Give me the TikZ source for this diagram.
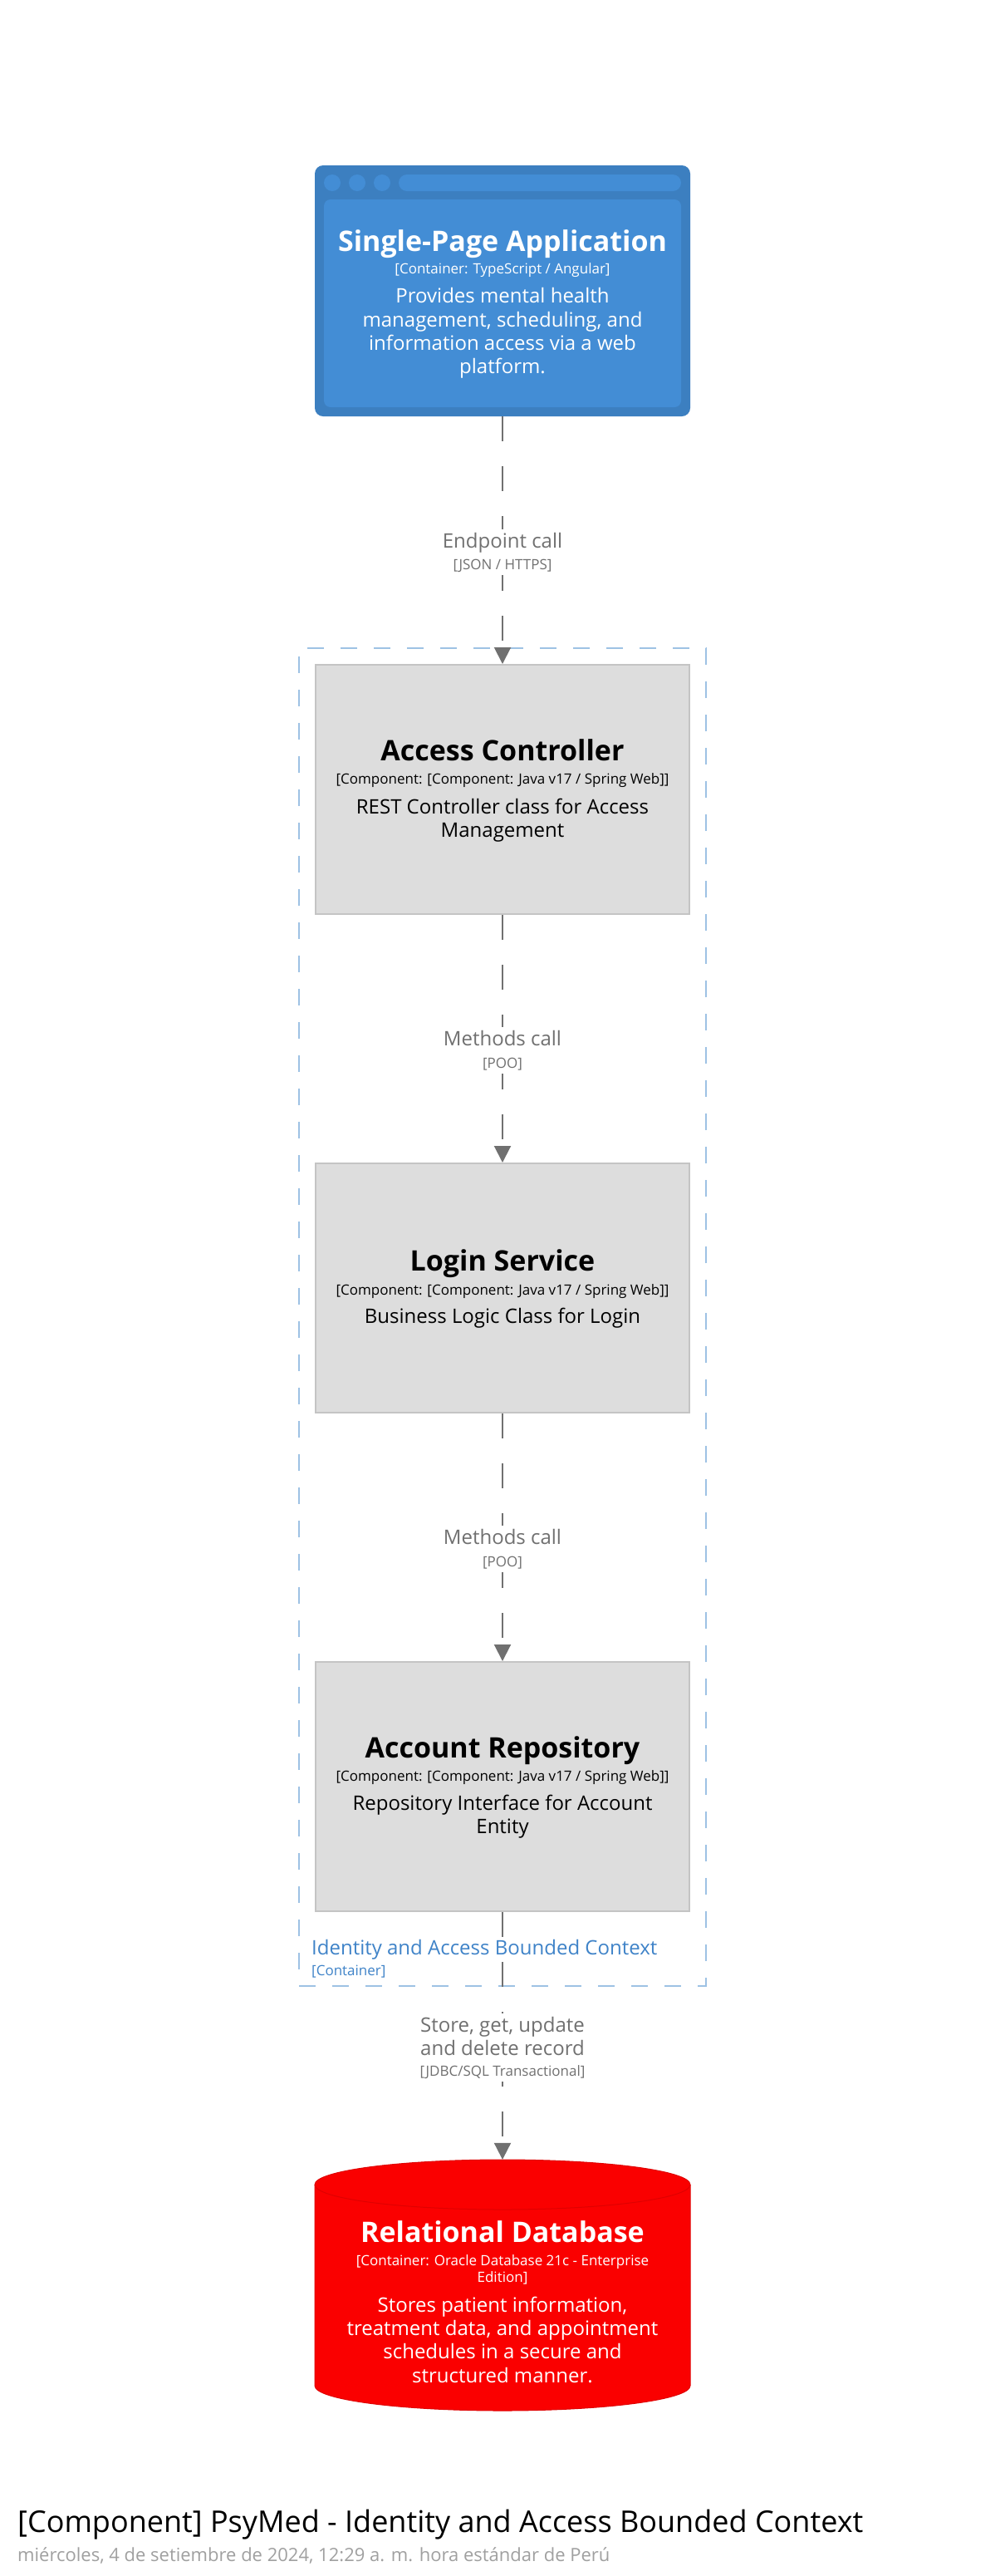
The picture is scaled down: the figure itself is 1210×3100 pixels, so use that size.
\documentclass[tikz,border=0pt]{standalone}
\usepackage{fontspec}
\setmainfont{Open Sans}
\usetikzlibrary{arrows.meta}
\definecolor{spaOuter}{HTML}{3C7FC0}
\definecolor{spaInner}{HTML}{438DD5}
\definecolor{compFill}{HTML}{DDDDDD}
\definecolor{compLine}{HTML}{C4C4C4}
\definecolor{relGray}{HTML}{707070}
\definecolor{bndBlue}{HTML}{9EC2E4}
\definecolor{bndText}{HTML}{3F83C8}
\definecolor{dbRed}{HTML}{FA0000}
\definecolor{dbLine}{HTML}{E00000}
\definecolor{dateGray}{HTML}{A0A0A0}
\tikzset{
  ttl/.style={anchor=base, inner sep=0pt, font=\fontsize{34}{40}\selectfont\bfseries},
  tech/.style={anchor=base, inner sep=0pt, font=\fontsize{17}{20}\selectfont},
  dsc/.style={anchor=base, inner sep=0pt, font=\fontsize{24}{28}\selectfont},
  comp/.style={rectangle, draw=compLine, line width=2pt, fill=compFill, minimum width=450pt, minimum height=300pt, inner sep=0pt},
  rel/.style={draw=relGray, line width=2pt, dash pattern=on 30pt off 30pt, -{Triangle[length=20pt,width=20pt]}},
  rlab/.style={anchor=base, fill=white, inner xsep=2pt, inner ysep=4pt, text=relGray, font=\fontsize{24}{28}\selectfont},
  rtech/.style={anchor=base, fill=white, inner xsep=2pt, inner ysep=4pt, text=relGray, font=\fontsize{17}{20}\selectfont},
}
\begin{document}
\begin{tikzpicture}[x=1pt,y=-1pt]
\useasboundingbox (0,0) rectangle (1210,3100);
\fill[white] (0,0) rectangle (1210,3100);

% boundary
\node[rectangle, draw=bndBlue, line width=2pt, dash pattern=on 20pt off 20pt, minimum width=490pt, minimum height=1610pt, inner sep=0pt] (bnd) at (605,1585) {};
\node[anchor=base west, inner sep=0pt, text=bndText, font=\fontsize{24}{28}\selectfont] (bndname) at (375,2352) {Identity and Access Bounded Context};
\node[anchor=base west, inner sep=0pt, text=bndText, font=\fontsize{17}{20}\selectfont] (bndtype) at (375,2377) {[Container]};

% Single-Page Application
\node[rectangle, fill=spaOuter, rounded corners=10pt, minimum width=452pt, minimum height=302pt, inner sep=0pt] (spa) at (605,350) {};
\fill[spaInner, rounded corners=8pt] (390,240) rectangle (820,490);
\foreach \cx in {400,430,460} \fill[spaInner] (\cx,220) circle[radius=10pt];
\fill[spaInner, rounded corners=10pt] (480,210) rectangle (820,230);
\node[ttl, text=white] (spa-t) at (605,302) {Single-Page Application};
\node[tech, text=white] (spa-k) at (605,329) {[Container: TypeScript / Angular]};
\node[dsc, text=white] (spa-d1) at (605,364) {Provides mental health};
\node[dsc, text=white] (spa-d2) at (605,393) {management, scheduling, and};
\node[dsc, text=white] (spa-d3) at (605,421) {information access via a web};
\node[dsc, text=white] (spa-d4) at (605,449) {platform.};

% Access Controller
\node[comp] (ac) at (605,950) {};
\node[ttl] (ac-t) at (605,915) {Access Controller};
\node[tech] (ac-k) at (605,943) {[Component: [Component: Java v17 / Spring Web]]};
\node[dsc] (ac-d1) at (605,979) {REST Controller class for Access};
\node[dsc] (ac-d2) at (605,1007) {Management};

% Login Service
\node[comp] (ls) at (605,1550) {};
\node[ttl] (ls-t) at (605,1529) {Login Service};
\node[tech] (ls-k) at (605,1558) {[Component: [Component: Java v17 / Spring Web]]};
\node[dsc] (ls-d1) at (605,1592) {Business Logic Class for Login};

% Account Repository
\node[comp] (ar) at (605,2150) {};
\node[ttl] (ar-t) at (605,2115) {Account Repository};
\node[tech] (ar-k) at (605,2143) {[Component: [Component: Java v17 / Spring Web]]};
\node[dsc] (ar-d1) at (605,2178) {Repository Interface for Account};
\node[dsc] (ar-d2) at (605,2206) {Entity};

% Relational Database
\node[rectangle, minimum width=452pt, minimum height=302pt, inner sep=0pt] (db) at (605,2750) {};
\filldraw[fill=dbRed, draw=dbLine, line width=1pt] (379,2629) arc[start angle=180, end angle=0, x radius=226pt, y radius=30pt] -- (831,2871) arc[start angle=0, end angle=-180, x radius=226pt, y radius=30pt] -- cycle;
\draw[dbLine, line width=1pt] (379,2629) arc[start angle=180, end angle=360, x radius=226pt, y radius=30pt];
\node[ttl, text=white] (db-t) at (605,2698) {Relational Database};
\node[tech, text=white] (db-k1) at (605,2726) {[Container: Oracle Database 21c - Enterprise};
\node[tech, text=white] (db-k2) at (605,2746) {Edition]};
\node[dsc, text=white] (db-d1) at (605,2782) {Stores patient information,};
\node[dsc, text=white] (db-d2) at (605,2810) {treatment data, and appointment};
\node[dsc, text=white] (db-d3) at (605,2838) {schedules in a secure and};
\node[dsc, text=white] (db-d4) at (605,2867) {structured manner.};

% relationships
\draw[rel] (spa) -- (ac);
\draw[rel] (ac) -- (ls);
\draw[rel] (ls) -- (ar);
\draw[rel] (ar) -- (db);

\node[rlab] (r1a) at (605,659) {Endpoint call};
\node[rtech] (r1b) at (605,685) {[JSON / HTTPS]};
\node[rlab] (r2a) at (605,1258) {Methods call};
\node[rtech] (r2b) at (605,1285) {[POO]};
\node[rlab] (r3a) at (605,1858) {Methods call};
\node[rtech] (r3b) at (605,1885) {[POO]};
\node[rlab] (r4a) at (605,2445) {Store, get, update};
\node[rlab] (r4b) at (605,2473) {and delete record};
\node[rtech] (r4c) at (605,2498) {[JDBC/SQL Transactional]};

% footer
\node[anchor=base west, inner sep=0pt, font=\fontsize{36}{42}\selectfont] (title) at (21,3047) {[Component] PsyMed - Identity and Access Bounded Context};
\node[anchor=base west, inner sep=0pt, text=dateGray, font=\fontsize{22}{26}\selectfont] (date) at (21,3082) {miércoles, 4 de setiembre de 2024, 12:29 a. m. hora estándar de Perú};
\end{tikzpicture}
\end{document}
